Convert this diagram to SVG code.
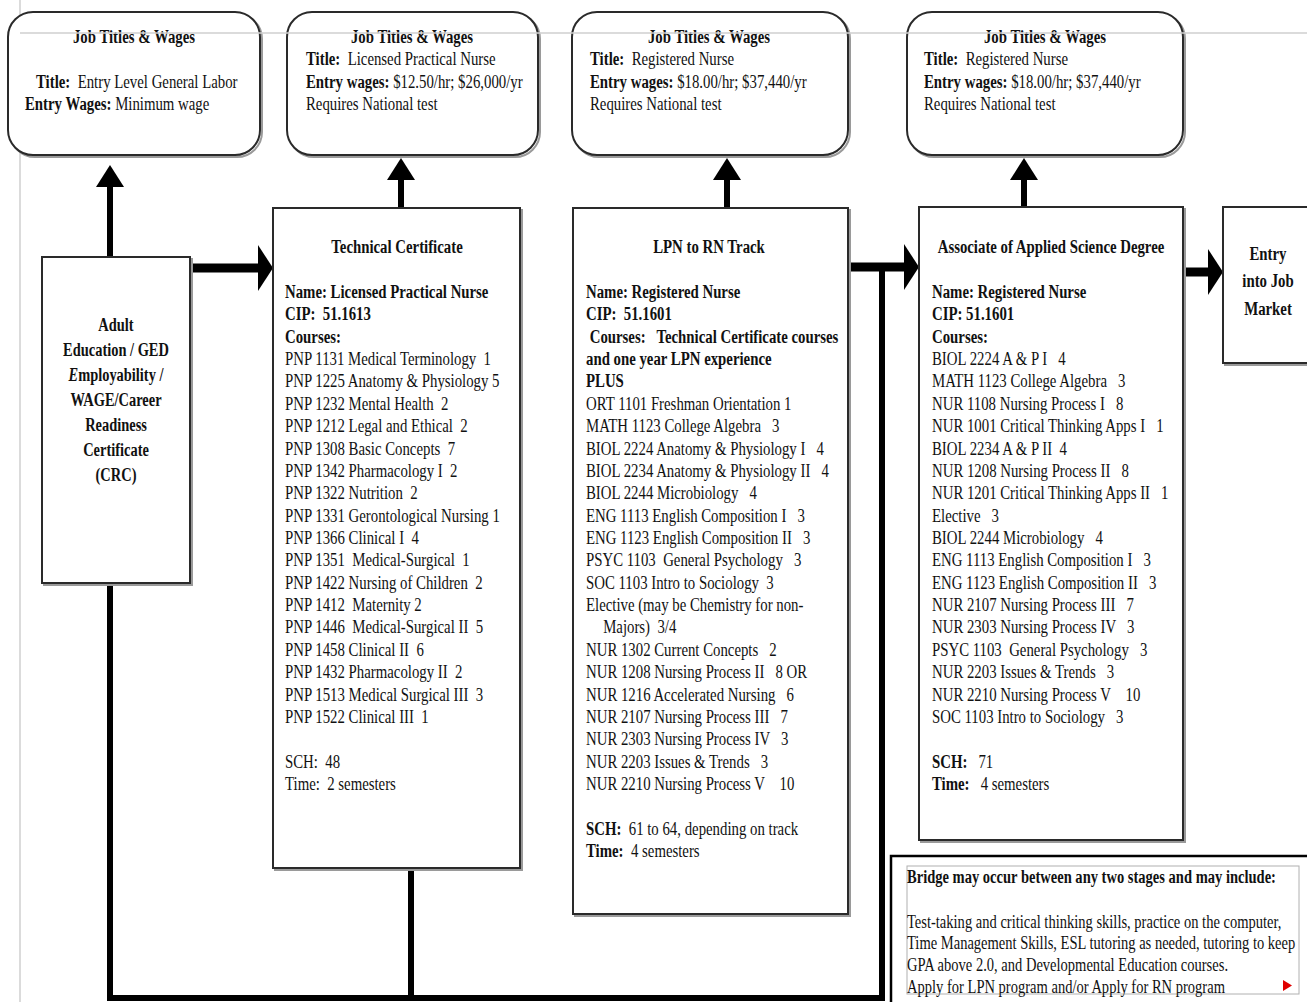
<svg xmlns="http://www.w3.org/2000/svg" width="1307" height="1002" viewBox="0 0 1307 1002" xml:space="preserve">
<style>
.t{font-family:"Liberation Serif","Times New Roman",serif;font-size:19px;fill:#111;white-space:pre}
.b{font-weight:bold}
.m{text-anchor:middle}
.box{fill:#fff;stroke:#2a2a2a;stroke-width:2}
.shadow{fill:none;stroke:#9a9a9a;stroke-width:2}
.guide{stroke:#cfcfcf;stroke-width:1.5;fill:none}
.conn{stroke:#000;fill:none}
</style>
<defs>
<marker id="up" markerUnits="userSpaceOnUse" markerWidth="22" markerHeight="28" refX="0" refY="14" orient="auto" viewBox="0 0 22 28"><path d="M0,0 L22,14 L0,28 Z" fill="#000"/></marker>
<marker id="rt" markerUnits="userSpaceOnUse" markerWidth="15" markerHeight="46" refX="0" refY="23" orient="auto" viewBox="0 0 15 46"><path d="M0,0 L15,23 L0,46 Z" fill="#000"/></marker>
</defs>
<rect width="1307" height="1002" fill="#fff"/>
<line class="guide" x1="20" y1="0" x2="20" y2="1002"/>

<g id="connectors">
<path class="conn" stroke-width="6" d="M110,257 V187" marker-end="url(#up)"/>
<path class="conn" stroke-width="9" d="M190,268 H258" marker-end="url(#rt)"/>
<path class="conn" stroke-width="6" d="M401,208 V180" marker-end="url(#up)"/>
<path class="conn" stroke-width="6" d="M727,208 V180" marker-end="url(#up)"/>
<path class="conn" stroke-width="6" d="M1024,207 V180" marker-end="url(#up)"/>
<path class="conn" stroke-width="9" d="M848,267 H904" marker-end="url(#rt)"/>
<path class="conn" stroke-width="9" d="M1183,272 H1208" marker-end="url(#rt)"/>
<path class="conn" stroke-width="6" d="M110,583 V998 H882 V267"/>
<path class="conn" stroke-width="6" d="M411,868 V998"/>
</g>

<g id="job1">
<rect class="shadow" x="10" y="14" width="252" height="143" rx="25"/>
<rect class="box" x="8" y="12" width="252" height="143" rx="25"/>
<g transform="translate(134 0) scale(0.78 1)"><text class="t b m" x="0" y="43">Job Titles &amp; Wages</text></g>
<g transform="translate(36 0) scale(0.78 1)"><text class="t" x="0" y="88"><tspan class="b">Title:</tspan>  Entry Level General Labor</text></g>
<g transform="translate(25 0) scale(0.78 1)"><text class="t" x="0" y="110"><tspan class="b">Entry Wages:</tspan> Minimum wage</text></g>
</g>

<g id="job2">
<rect class="shadow" x="289" y="14" width="251" height="143" rx="25"/>
<rect class="box" x="287" y="12" width="251" height="143" rx="25"/>
<g transform="translate(412 0) scale(0.78 1)"><text class="t b m" x="0" y="43">Job Titles &amp; Wages</text></g>
<g transform="translate(306 0) scale(0.78 1)">
<text class="t" x="0" y="65"><tspan class="b">Title:</tspan>  Licensed Practical Nurse</text>
<text class="t" x="0" y="88"><tspan class="b">Entry wages:</tspan> $12.50/hr; $26,000/yr</text>
<text class="t" x="0" y="110">Requires National test</text>
</g>
</g>

<g id="job3">
<rect class="shadow" x="574" y="14" width="276" height="143" rx="25"/>
<rect class="box" x="572" y="12" width="276" height="143" rx="25"/>
<g transform="translate(709 0) scale(0.78 1)"><text class="t b m" x="0" y="43">Job Titles &amp; Wages</text></g>
<g transform="translate(590 0) scale(0.78 1)">
<text class="t" x="0" y="65"><tspan class="b">Title:</tspan>  Registered Nurse</text>
<text class="t" x="0" y="88"><tspan class="b">Entry wages:</tspan> $18.00/hr; $37,440/yr</text>
<text class="t" x="0" y="110">Requires National test</text>
</g>
</g>

<g id="job4">
<rect class="shadow" x="909" y="14" width="276" height="143" rx="25"/>
<rect class="box" x="907" y="12" width="276" height="143" rx="25"/>
<g transform="translate(1045 0) scale(0.78 1)"><text class="t b m" x="0" y="43">Job Titles &amp; Wages</text></g>
<g transform="translate(924 0) scale(0.78 1)">
<text class="t" x="0" y="65"><tspan class="b">Title:</tspan>  Registered Nurse</text>
<text class="t" x="0" y="88"><tspan class="b">Entry wages:</tspan> $18.00/hr; $37,440/yr</text>
<text class="t" x="0" y="110">Requires National test</text>
</g>
</g>

<line class="guide" x1="20" y1="33" x2="1307" y2="33"/>

<g id="adult">
<rect class="shadow" x="44" y="259" width="148" height="326"/>
<rect class="box" x="42" y="257" width="148" height="326"/>
<g transform="translate(116 0) scale(0.76 1)" class="t b m" font-size="21">
<text x="0" y="331">Adult</text>
<text x="0" y="356">Education / GED</text>
<text x="0" y="381"><tspan font-style="italic">E</tspan>mployability /</text>
<text x="0" y="406">WAGE/Career</text>
<text x="0" y="431">Readiness</text>
<text x="0" y="456">Certificate</text>
<text x="0" y="481">(CRC)</text>
</g>
</g>

<g id="techcert">
<rect class="shadow" x="275" y="210" width="247" height="660"/>
<rect class="box" x="273" y="208" width="247" height="660"/>
<g transform="translate(397 0) scale(0.78 1)"><text class="t b m" x="0" y="253">Technical Certificate</text></g>
<g transform="translate(285 0) scale(0.78 1)">
<text class="t b" x="0" y="298">Name: Licensed Practical Nurse</text>
<text class="t b" x="0" y="320.4">CIP:  51.1613</text>
<text class="t b" x="0" y="342.7">Courses:</text>
<text class="t" x="0" y="365.1">PNP 1131 Medical Terminology  1</text>
<text class="t" x="0" y="387.4">PNP 1225 Anatomy &amp; Physiology 5</text>
<text class="t" x="0" y="409.8">PNP 1232 Mental Health  2</text>
<text class="t" x="0" y="432.2">PNP 1212 Legal and Ethical  2</text>
<text class="t" x="0" y="454.6">PNP 1308 Basic Concepts  7</text>
<text class="t" x="0" y="476.9">PNP 1342 Pharmacology I  2</text>
<text class="t" x="0" y="499.3">PNP 1322 Nutrition  2</text>
<text class="t" x="0" y="521.6">PNP 1331 Gerontological Nursing 1</text>
<text class="t" x="0" y="544">PNP 1366 Clinical I  4</text>
<text class="t" x="0" y="566.4">PNP 1351  Medical-Surgical  1</text>
<text class="t" x="0" y="588.8">PNP 1422 Nursing of Children  2</text>
<text class="t" x="0" y="611.1">PNP 1412  Maternity 2</text>
<text class="t" x="0" y="633.5">PNP 1446  Medical-Surgical II  5</text>
<text class="t" x="0" y="655.8">PNP 1458 Clinical II  6</text>
<text class="t" x="0" y="678.2">PNP 1432 Pharmacology II  2</text>
<text class="t" x="0" y="700.6">PNP 1513 Medical Surgical III  3</text>
<text class="t" x="0" y="723">PNP 1522 Clinical III  1</text>
<text class="t" x="0" y="767.6">SCH:  48</text>
<text class="t" x="0" y="789.9">Time:  2 semesters</text>
</g>
</g>

<g id="lpnrn">
<rect class="shadow" x="575" y="210" width="275" height="706"/>
<rect class="box" x="573" y="208" width="275" height="706"/>
<g transform="translate(709 0) scale(0.78 1)"><text class="t b m" x="0" y="253">LPN to RN Track</text></g>
<g transform="translate(586 0) scale(0.78 1)">
<text class="t b" x="0" y="298">Name: Registered Nurse</text>
<text class="t b" x="0" y="320.4">CIP:  51.1601</text>
<text class="t b" x="0" y="342.7"> Courses:   Technical Certificate courses</text>
<text class="t b" x="0" y="365.1">and one year LPN experience</text>
<text class="t b" x="0" y="387.4">PLUS</text>
<text class="t" x="0" y="409.8">ORT 1101 Freshman Orientation 1</text>
<text class="t" x="0" y="432.2">MATH 1123 College Algebra   3</text>
<text class="t" x="0" y="454.6">BIOL 2224 Anatomy &amp; Physiology I   4</text>
<text class="t" x="0" y="476.9">BIOL 2234 Anatomy &amp; Physiology II   4</text>
<text class="t" x="0" y="499.3">BIOL 2244 Microbiology   4</text>
<text class="t" x="0" y="521.6">ENG 1113 English Composition I   3</text>
<text class="t" x="0" y="544">ENG 1123 English Composition II   3</text>
<text class="t" x="0" y="566.4">PSYC 1103  General Psychology   3</text>
<text class="t" x="0" y="588.8">SOC 1103 Intro to Sociology  3</text>
<text class="t" x="0" y="611.1">Elective (may be Chemistry for non-</text>
<text class="t" x="22" y="633.5">Majors)  3/4</text>
<text class="t" x="0" y="655.8">NUR 1302 Current Concepts   2</text>
<text class="t" x="0" y="678.2">NUR 1208 Nursing Process II   8 OR</text>
<text class="t" x="0" y="700.6">NUR 1216 Accelerated Nursing   6</text>
<text class="t" x="0" y="723">NUR 2107 Nursing Process III   7</text>
<text class="t" x="0" y="745.3">NUR 2303 Nursing Process IV   3</text>
<text class="t" x="0" y="767.7">NUR 2203 Issues &amp; Trends   3</text>
<text class="t" x="0" y="790">NUR 2210 Nursing Process V    10</text>
<text class="t" x="0" y="834.6"><tspan class="b">SCH:</tspan>  61 to 64, depending on track</text>
<text class="t" x="0" y="857"><tspan class="b">Time:</tspan>  4 semesters</text>
</g>
</g>

<g id="aas">
<rect class="shadow" x="921" y="209" width="264" height="633"/>
<rect class="box" x="919" y="207" width="264" height="633"/>
<g transform="translate(1051 0) scale(0.78 1)"><text class="t b m" x="0" y="253">Associate of Applied Science Degree</text></g>
<g transform="translate(932 0) scale(0.78 1)">
<text class="t b" x="0" y="298">Name: Registered Nurse</text>
<text class="t b" x="0" y="320.4">CIP: 51.1601</text>
<text class="t b" x="0" y="342.7">Courses:</text>
<text class="t" x="0" y="365.1">BIOL 2224 A &amp; P I   4</text>
<text class="t" x="0" y="387.4">MATH 1123 College Algebra   3</text>
<text class="t" x="0" y="409.8">NUR 1108 Nursing Process I   8</text>
<text class="t" x="0" y="432.2">NUR 1001 Critical Thinking Apps I   1</text>
<text class="t" x="0" y="454.6">BIOL 2234 A &amp; P II  4</text>
<text class="t" x="0" y="476.9">NUR 1208 Nursing Process II   8</text>
<text class="t" x="0" y="499.3">NUR 1201 Critical Thinking Apps II   1</text>
<text class="t" x="0" y="521.6">Elective   3</text>
<text class="t" x="0" y="544">BIOL 2244 Microbiology   4</text>
<text class="t" x="0" y="566.4">ENG 1113 English Composition I   3</text>
<text class="t" x="0" y="588.8">ENG 1123 English Composition II   3</text>
<text class="t" x="0" y="611.1">NUR 2107 Nursing Process III   7</text>
<text class="t" x="0" y="633.5">NUR 2303 Nursing Process IV   3</text>
<text class="t" x="0" y="655.8">PSYC 1103  General Psychology   3</text>
<text class="t" x="0" y="678.2">NUR 2203 Issues &amp; Trends   3</text>
<text class="t" x="0" y="700.6">NUR 2210 Nursing Process V    10</text>
<text class="t" x="0" y="723">SOC 1103 Intro to Sociology   3</text>
<text class="t" x="0" y="767.6"><tspan class="b">SCH:</tspan>   71</text>
<text class="t" x="0" y="789.9"><tspan class="b">Time:</tspan>   4 semesters</text>
</g>
</g>

<g id="entry">
<rect class="shadow" x="1225" y="209" width="100" height="156"/>
<rect class="box" x="1223" y="207" width="100" height="156"/>
<g transform="translate(1268 0) scale(0.78 1)" class="t b m" font-size="23">
<text x="0" y="260">Entry</text>
<text x="0" y="287">into Job</text>
<text x="0" y="315">Market</text>
</g>
</g>

<g id="bridge">
<rect x="891" y="856" width="416" height="146" fill="#fff"/>
<path d="M1307,856 H891 V1002" fill="none" stroke="#000" stroke-width="2.5"/>
<rect x="907" y="866" width="392" height="128" fill="#fff" stroke="#b0b0b0" stroke-width="1"/>
<g transform="translate(907 0) scale(0.765 1)">
<text class="t b" font-size="18" x="0" y="883">Bridge may occur between any two stages and may include:</text>
<text class="t" font-size="18" x="0" y="928">Test-taking and critical thinking skills, practice on the computer,</text>
<text class="t" font-size="18" x="0" y="949">Time Management Skills, ESL tutoring as needed, tutoring to keep</text>
<text class="t" font-size="18" x="0" y="971">GPA above 2.0, and Developmental Education courses.</text>
<text class="t" font-size="18" x="0" y="993">Apply for LPN program and/or Apply for RN program</text>
</g>
<polygon points="1283,980 1292,985.5 1283,991" fill="#e00000"/>
</g>
</svg>
